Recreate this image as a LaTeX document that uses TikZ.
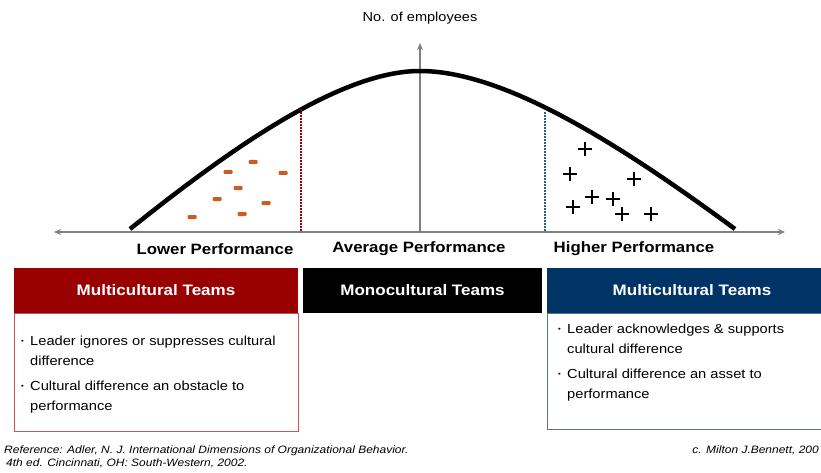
\documentclass[tikz,border=0pt]{standalone}
\usepackage{fontspec}
\setmainfont{Liberation Sans}[FakeStretch=1.12]
\usepackage{xcolor}
\usetikzlibrary{
    arrows.meta,
    positioning
}

\definecolor{lowred}{RGB}{153,0,0}
\definecolor{lowedge}{RGB}{196,86,86}
\definecolor{highblue}{RGB}{0,51,102}
\definecolor{highedge}{RGB}{96,114,138}
\definecolor{minusorange}{RGB}{200,94,36}
\definecolor{axisgray}{RGB}{128,128,128}

\newcommand{\dotmark}{\makebox[9pt][l]{\raisebox{1.6pt}{\fontsize{7}{7}\selectfont\textbullet}}}

\begin{document}
\begin{tikzpicture}[
        x=1pt, y=-1pt,
        axis/.style={
            draw=axisgray,
            line width=1.3pt,
            -{Stealth[length=7pt,width=6pt]}
        },
        curve/.style={
            line width=4.5pt
        },
        cut/.style={
            line width=1.8pt,
            dash pattern=on 1.6pt off 1.4pt
        },
        header/.style={
            rectangle,
            inner sep=0pt,
            outer sep=0pt,
            minimum height=45pt,
            text=white,
            font=\fontsize{15.2}{18}\selectfont\bfseries
        },
        bodybox/.style={
            rectangle,
            draw,
            line width=0.9pt,
            inner sep=0pt,
            outer sep=0pt
        },
        bullettext/.style={
            anchor=north west,
            inner sep=0pt,
            align=left,
            font=\fontsize{13.1}{20}\selectfont
        },
        perflabel/.style={
            font=\fontsize{15}{18}\selectfont\bfseries
        },
        plusmark/.style={
            line width=2pt
        }
    ]

    \clip (0,0) rectangle (821,473);

    % axes
    \coordinate (origin) at (420,232);
    \coordinate (xleft) at (54,232);
    \coordinate (xright) at (785,232);
    \coordinate (ytop) at (420,43);

    \draw[axis, {Stealth[length=7pt,width=6pt]}-{Stealth[length=7pt,width=6pt]}]
        (xleft) -- (xright);
    \draw[axis] (origin) -- (ytop);

    \node[font=\fontsize{13}{15}\selectfont] (ylabel) at (420,18)
        {No. of employees};

    % bell curve
    \coordinate (tailleft) at (130,229);
    \coordinate (peak) at (420,71);
    \coordinate (tailright) at (735,229);

    \draw[curve]
        (tailleft) .. controls (230,149) and (340,71) .. (peak)
        .. controls (507,71) and (626,149) .. (tailright);

    % cut-off lines
    \coordinate (lowtop) at (301,109);
    \coordinate (lowfoot) at (301,232);
    \coordinate (hightop) at (545,112);
    \coordinate (highfoot) at (545,232);

    \draw[cut, lowred] (lowtop) -- (lowfoot);
    \draw[cut, highblue!80] (hightop) -- (highfoot);

    % minus and plus marks
    \foreach \mx/\my in {253/162, 228/172, 283/173, 238/188,
                         217/199, 266/203, 192/217, 242/214}
        \fill[minusorange, rounded corners=1pt]
            (\mx-4.5,\my-2) rectangle (\mx+4.5,\my+2);

    \foreach \px/\py in {585/149, 570/174, 634/179, 592/197,
                         613/199, 573/207, 622/214, 651/214}
        \draw[plusmark]
            (\px-7,\py) -- (\px+7,\py)
            (\px,\py-7) -- (\px,\py+7);

    % performance labels
    \node[perflabel] (lowlabel) at (215,249) {Lower Performance};
    \node[perflabel] (avglabel) at (419,249) {Average Performance};
    \node[perflabel] (highlabel) at (634,249) {Higher Performance};

    % team boxes
    \node[header, fill=lowred, minimum width=284pt] (lowhead)
        at (156,290.5) {Multicultural Teams};
    \node[header, fill=black, minimum width=239pt] (avghead)
        at (422.5,290.5) {Monocultural Teams};
    \node[header, fill=highblue, minimum width=290pt] (highhead)
        at (692,290.5) {Multicultural Teams};

    \node[bodybox, draw=lowedge, minimum width=284pt, minimum height=118pt,
          below=0pt of lowhead] (lowbody) {};
    \node[bodybox, draw=highedge, minimum width=290pt, minimum height=116pt,
          below=0pt of highhead] (highbody) {};

    \node[bullettext] (lowtext) at (21,331) {%
        \begin{tabular}{@{}l@{}l@{}}
            \dotmark & Leader ignores or suppresses cultural\\
                     & difference\\[5pt]
            \dotmark & Cultural difference an obstacle to\\
                     & performance
        \end{tabular}};

    \node[bullettext] (hightext) at (558,319) {%
        \begin{tabular}{@{}l@{}l@{}}
            \dotmark & Leader acknowledges \& supports\\
                     & cultural difference\\[5pt]
            \dotmark & Cultural difference an asset to\\
                     & performance
        \end{tabular}};

    % source lines
    \node[anchor=north west, inner sep=0pt, align=left,
          font=\fontsize{10.7}{13}\selectfont\itshape] (source) at (4,446)
        {Reference: Adler, N. J. International Dimensions of Organizational Behavior.\\
         \hspace{2pt}4th ed. Cincinnati, OH: South-Western, 2002.};
    \node[anchor=north east, inner sep=0pt,
          font=\fontsize{10.7}{13}\selectfont\itshape] (credit) at (819,446)
        {c. Milton J.Bennett, 200};

\end{tikzpicture}
\end{document}
